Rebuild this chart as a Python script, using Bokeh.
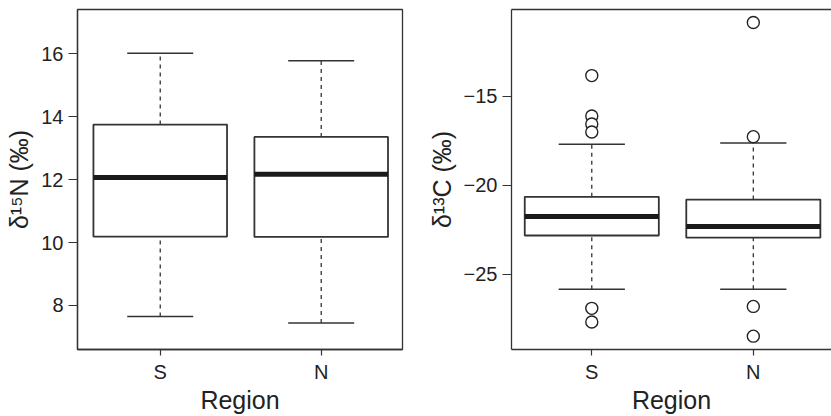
from bokeh.plotting import figure
from bokeh.models import FixedTicker, LinearAxis, Range1d
from bokeh.layouts import row
from bokeh.embed import file_html
from bokeh.resources import INLINE

# ---- data ----
categories = ["S", "N"]

n_lower = [7.65, 7.44]
n_q1 = [10.19, 10.18]
n_median = [12.07, 12.17]
n_q3 = [13.75, 13.36]
n_upper = [16.02, 15.78]
n_out_x = []
n_out_y = []
n_ticks = [8, 10, 12, 14, 16]
n_tick_labels = ["8", "10", "12", "14", "16"]

c_lower = [-25.84, -25.84]
c_q1 = [-22.82, -22.94]
c_median = [-21.75, -22.32]
c_q3 = [-20.65, -20.80]
c_upper = [-17.70, -17.63]
c_out_x = ["S", "S", "S", "S", "S", "S", "N", "N", "N", "N"]
c_out_y = [-13.84, -16.11, -16.56, -17.01, -26.91, -27.68,
           -10.86, -17.27, -26.80, -28.47]
c_ticks = [-25, -20, -15]
c_tick_labels = ["\u221225", "\u221220", "\u221215"]

FONT = "Liberation Sans"
LINE = "#333333"
TICK_SIZE = "20px"
LABEL_SIZE = "25px"


def make_panel(width, height, ylo, yhi, xlo, xhi, min_left, ticks, tick_labels,
               ylabel, lower, q1, med, q3, upper, ox, oy, full_box):
    pos = {c: i + 1 for i, c in enumerate(categories)}
    xs = [pos[c] for c in categories]
    p = figure(width=width, height=height, output_backend="svg", toolbar_location=None,
               x_range=Range1d(xlo, xhi), y_range=Range1d(ylo, yhi),
               min_border_left=min_left, min_border_right=(16 if full_box else 0),
               min_border_top=9, min_border_bottom=0, x_axis_location=None,
               y_axis_location=None)
    p.grid.visible = False
    p.background_fill_color = "white"
    p.border_fill_color = "white"
    if full_box:
        p.outline_line_color = LINE
        p.outline_line_width = 1.3
        p.outline_line_alpha = 1.0
    else:
        p.outline_line_color = None
        top = LinearAxis(ticker=FixedTicker(ticks=[]), major_label_text_font_size="0px",
                         major_tick_out=0, minor_tick_out=0, axis_line_color=LINE,
                         axis_line_width=1.3)
        p.add_layout(top, "above")

    xax = LinearAxis(ticker=FixedTicker(ticks=xs),
                     major_label_overrides={pos[c]: c for c in categories},
                     axis_label="Region")
    yax = LinearAxis(ticker=FixedTicker(ticks=ticks),
                     major_label_overrides={t: l for t, l in zip(ticks, tick_labels)},
                     axis_label=ylabel)
    for ax in (xax, yax):
        ax.minor_tick_line_color = None
        ax.axis_line_color = LINE
        ax.axis_line_width = 1.3
        ax.major_tick_line_color = LINE
        ax.major_tick_line_width = 1.2
        ax.major_tick_in = 0
        ax.major_label_text_font = FONT
        ax.major_label_text_font_size = TICK_SIZE
        ax.major_label_text_color = "#222222"
        ax.axis_label_text_font = FONT
        ax.axis_label_text_font_size = LABEL_SIZE
        ax.axis_label_text_font_style = "normal"
        ax.axis_label_text_color = "#222222"
        ax.major_label_standoff = 5
    xax.major_tick_out = 6
    xax.axis_label_standoff = 0
    yax.major_tick_out = 9
    yax.axis_label_standoff = 5
    yax.major_label_orientation = "horizontal"
    p.add_layout(xax, "below")
    p.add_layout(yax, "left")

    bw = 0.83
    cw = 0.41
    xsl = [x - bw / 2 for x in xs]
    xsr = [x + bw / 2 for x in xs]
    # whiskers
    p.segment(x0=xs, y0=q3, x1=xs, y1=upper, line_color=LINE, line_width=1.3, line_dash="4 4")
    p.segment(x0=xs, y0=lower, x1=xs, y1=q1, line_color=LINE, line_width=1.3, line_dash="4 4")
    p.segment(x0=[x - cw / 2 for x in xs], y0=upper, x1=[x + cw / 2 for x in xs], y1=upper,
              line_color=LINE, line_width=1.5)
    p.segment(x0=[x - cw / 2 for x in xs], y0=lower, x1=[x + cw / 2 for x in xs], y1=lower,
              line_color=LINE, line_width=1.5)
    # boxes
    p.quad(left=xsl, right=xsr, bottom=q1, top=q3, fill_color="white",
           line_color=LINE, line_width=1.8)
    p.segment(x0=xsl, y0=med, x1=xsr, y1=med, line_color="#1a1a1a", line_width=5)
    # outliers
    if ox:
        p.scatter(x=[pos[c] for c in ox], y=oy, marker="circle", size=12,
                  fill_color="white", line_color="#222222", line_width=1.4)
    return p


p1 = make_panel(418, 416, 6.60, 17.41, 0.486, 2.505, 77, n_ticks, n_tick_labels,
                "\u03b4\u00b9\u2075N (\u2030)", n_lower, n_q1, n_median, n_q3, n_upper,
                n_out_x, n_out_y, True)
p2 = make_panel(413, 416, -29.22, -10.13, 0.503, 2.484, 93, c_ticks, c_tick_labels,
                "\u03b4\u00b9\u00b3C (\u2030)", c_lower, c_q1, c_median, c_q3, c_upper,
                c_out_x, c_out_y, False)

layout = row(p1, p2)
open("out.html", "w").write(file_html(layout, INLINE))
